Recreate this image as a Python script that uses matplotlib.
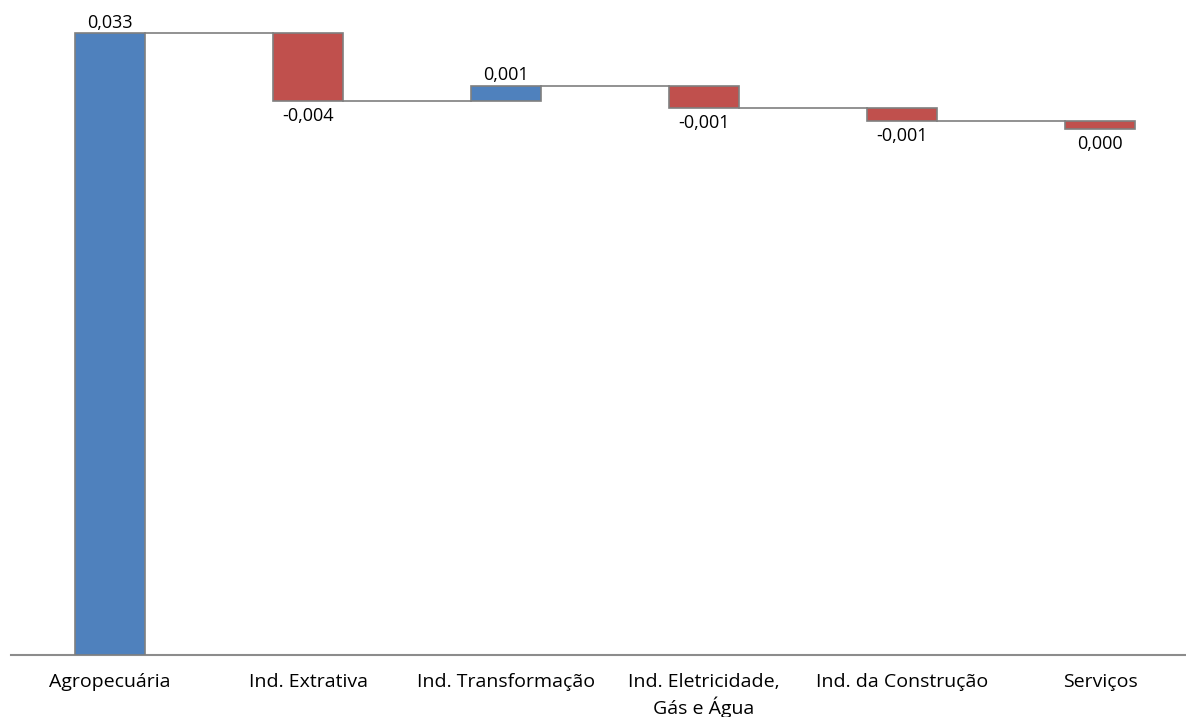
import matplotlib.pyplot as plt
import numpy as np

categories = ["Agropecuária", "Ind. Extrativa", "Ind. Transformação",
              "Ind. Eletricidade,\nGás e Água", "Ind. da Construção", "Serviços"]
changes = [0.0330, -0.0036, 0.0008, -0.00117, -0.00069, -0.00042]
value_labels = ["0,033", "-0,004", "0,001", "-0,001", "-0,001", "0,000"]

BLUE = "#4F81BD"
RED = "#C0504D"
EDGE = "#7F7F7F"

ends = np.cumsum(changes)
starts = ends - np.array(changes)
pos = np.arange(len(categories))
width = 0.355

fig = plt.figure(figsize=(11.86, 7.17), dpi=100)
ax = fig.add_axes([11 / 1186, 62 / 717, 1 - 11 / 1186, 1 - 62 / 717])

colors = [BLUE if c >= 0 else RED for c in changes]
ax.bar(pos, changes, bottom=starts, width=width, color=colors,
       edgecolor=EDGE, linewidth=1.2, zorder=3)

# connectors between consecutive bars
for i in range(len(pos) - 1):
    ax.plot([pos[i] + width / 2, pos[i + 1] - width / 2], [ends[i], ends[i]],
            color=EDGE, linewidth=1.2, zorder=2)

for i, (c, lab) in enumerate(zip(changes, value_labels)):
    if c >= 0:
        ax.annotate(lab, (pos[i], ends[i]), xytext=(0, 1), textcoords="offset points",
                    ha="center", va="bottom", fontsize=13, family="Open Sans")
    else:
        ax.annotate(lab, (pos[i], ends[i]), xytext=(0, -4.5), textcoords="offset points",
                    ha="center", va="top", fontsize=13, family="Open Sans")

ax.set_xlim(-0.5, (1186 - 110) / 198)
ax.set_ylim(0, 0.033 + 33 / 18848)
ax.set_xticks(pos)
ax.set_xticklabels(categories, fontsize=14, family="Open Sans", linespacing=1.3)
ax.tick_params(axis="x", length=0, pad=13)
ax.set_yticks([])
for s in ["top", "right", "left"]:
    ax.spines[s].set_visible(False)
ax.spines["bottom"].set_color("#8C8C8C")
ax.spines["bottom"].set_linewidth(1.5)

fig.savefig("out.png", dpi=100)
